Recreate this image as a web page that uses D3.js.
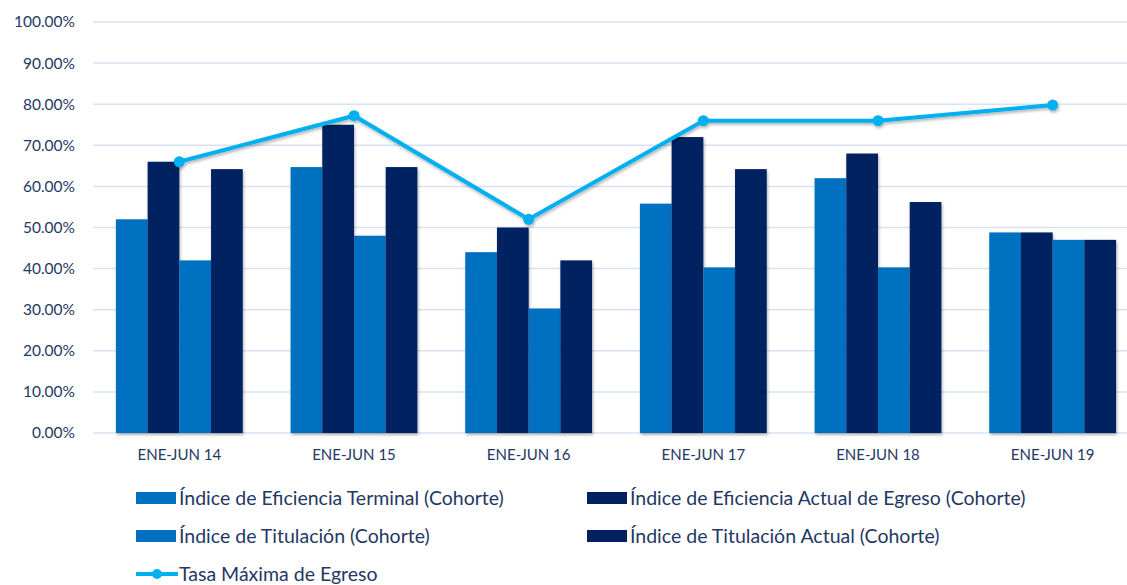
<!DOCTYPE html>
<html><head><meta charset="utf-8">
<script src="https://cdn.jsdelivr.net/npm/d3@7"></script>
<style>body{margin:0;background:#fff}svg{display:block}text{font-family:Lato,"Noto Sans",sans-serif}</style>
</head><body><svg id="c" width="1127" height="585"></svg>
<script>
const categories = ["ENE-JUN 14","ENE-JUN 15","ENE-JUN 16","ENE-JUN 17","ENE-JUN 18","ENE-JUN 19"];
const eficienciaTerminal = [52, 64.7, 44, 55.8, 62, 48.8];
const eficienciaActual = [66, 75, 50, 72, 68, 48.8];
const titulacion = [42, 48, 30.3, 40.3, 40.3, 47];
const titulacionActual = [64.2, 64.7, 42, 64.2, 56.2, 47];
const tasaMaxima = [66, 77.2, 52, 76, 76, 79.8];
const yTicks = [0,10,20,30,40,50,60,70,80,90,100];
const seriesNames = ["Índice de Eficiencia Terminal (Cohorte)","Índice de Eficiencia Actual de Egreso (Cohorte)","Índice de Titulación (Cohorte)","Índice de Titulación Actual (Cohorte)"];
const lineName = "Tasa Máxima de Egreso";

const barSeries = [eficienciaTerminal, eficienciaActual, titulacion, titulacionActual];
const colors = ["#0070C0","#002060","#0070C0","#002060"];
const lineColor = "#00B0F0";
const textColor = "#1F3864";

const svg = d3.select("#c");
const y = d3.scaleLinear().domain([0,100]).range([433,22]);
const x0 = d3.scaleBand().domain(categories).range([92,1140]).paddingInner(0.274).paddingOuter(0.137);
const x1 = d3.scaleBand().domain(d3.range(4)).range([0,x0.bandwidth()]);

const defs = svg.append("defs");
const f = defs.append("filter").attr("id","sh").attr("x","-10%").attr("y","-10%").attr("width","130%").attr("height","140%");
f.append("feDropShadow").attr("dx",1).attr("dy",2).attr("stdDeviation",1.5).attr("flood-color","#000").attr("flood-opacity",0.3);

// grid
svg.append("g").selectAll("line").data(yTicks).join("line")
  .attr("x1",93).attr("x2",1127).attr("y1",d=>y(d)).attr("y2",d=>y(d))
  .attr("stroke","#D9E2F3").attr("stroke-width",1.5);

// y axis labels
const yAxis = d3.axisLeft(y).tickValues(yTicks).tickFormat(d=>d.toFixed(2)+"%").tickSize(0).tickPadding(0);
const ga = svg.append("g").attr("transform","translate(75,0)").call(yAxis);
ga.select(".domain").remove();
ga.selectAll("text").attr("fill",textColor).style("font-size","15.5px").style("font-family","Lato,sans-serif");

// bars
const gb = svg.append("g");
categories.forEach((c,i)=>{
  gb.append("g").attr("transform",`translate(${x0(c)},0)`)
    .selectAll("rect").data(barSeries.map((s,k)=>({k,v:s[i]}))).join("rect")
    .attr("x",d=>x1(d.k)).attr("width",x1.bandwidth())
    .attr("y",d=>y(d.v)).attr("height",d=>y(0)-y(d.v))
    .attr("fill",d=>colors[d.k]).attr("filter","url(#sh)");
});

// x axis labels
const xAxis = d3.axisBottom(x0).tickSize(0).tickPadding(0);
const gx = svg.append("g").attr("transform","translate(0,449)").call(xAxis);
gx.select(".domain").remove();
gx.selectAll("text").attr("fill",textColor).style("font-size","15px").style("font-family","Lato,sans-serif");

// line
const cx = d=>x0(d)+x0.bandwidth()/2;
const lg = svg.append("g").attr("filter","url(#sh)");
lg.append("path").datum(tasaMaxima)
  .attr("d",d3.line().x((d,i)=>cx(categories[i])).y(d=>y(d)))
  .attr("fill","none").attr("stroke",lineColor).attr("stroke-width",4);
lg.selectAll("circle").data(tasaMaxima).join("circle")
  .attr("cx",(d,i)=>cx(categories[i])).attr("cy",d=>y(d)).attr("r",5.5).attr("fill",lineColor);

// legend
const leg = svg.append("g");
const pos = [[136,498],[587,498],[136,536],[587,536]];
seriesNames.forEach((n,k)=>{
  const g = leg.append("g").attr("transform",`translate(${pos[k][0]},${pos[k][1]})`);
  g.append("rect").attr("x",0).attr("y",-6).attr("width",40).attr("height",12).attr("fill",colors[k]);
  g.append("text").attr("x",43).attr("y",0).attr("dy","0.35em").attr("fill",textColor).style("font-size","19.5px").text(n);
});
const g5 = leg.append("g").attr("transform","translate(136,574)");
g5.append("line").attr("x1",0).attr("x2",42).attr("stroke",lineColor).attr("stroke-width",4);
g5.append("circle").attr("cx",21).attr("r",5).attr("fill",lineColor);
g5.append("text").attr("x",43).attr("dy","0.35em").attr("fill",textColor).style("font-size","19.5px").text(lineName);
</script></body></html>
